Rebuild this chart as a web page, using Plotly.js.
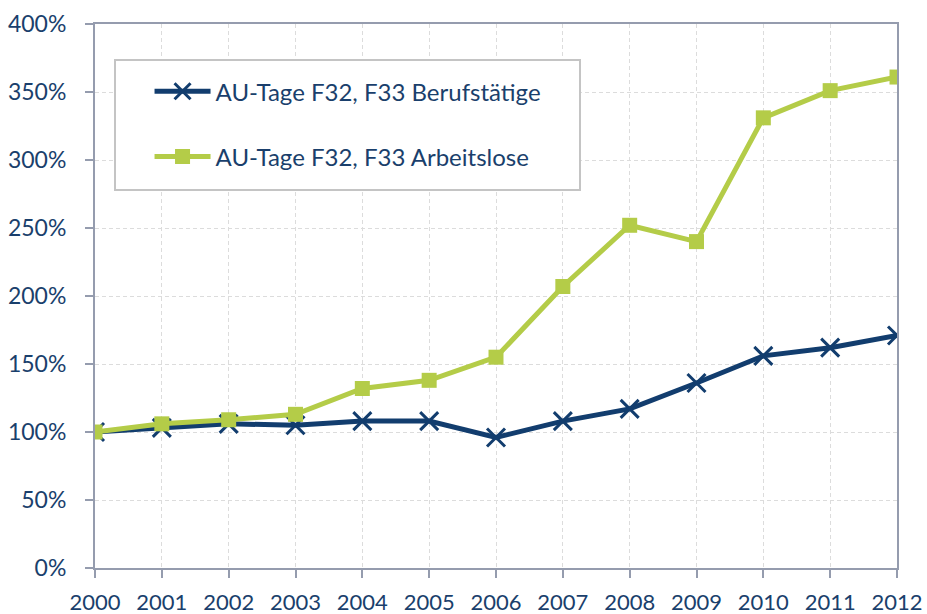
<!DOCTYPE html>
<html><head><meta charset="utf-8">
<script src="https://cdn.plot.ly/plotly-3.0.1.min.js"></script>
<style>body{margin:0;background:#fff}#c{width:927px;height:614px}</style>
</head><body><div id="c"></div>
<script>
const years = ['2000','2001','2002','2003','2004','2005','2006','2007','2008','2009','2010','2011','2012'];
const berufstaetige = [100,103,106,105,108,108,96,108,117,136,156,162,171];
const arbeitslose = [100,106,109,113,132,138,155,207,252,240,331,351,361];
const yTicks = [0,50,100,150,200,250,300,350,400];
const yTickText = yTicks.map(v => v + '%');
const names = ['AU-Tage F32, F33 Berufstätige','AU-Tage F32, F33 Arbeitslose'];

const navy = '#123d6e';
const green = '#b4cc48';
const textCol = '#1a3f6c';
const axisCol = '#959cae';

const traces = [
  {x: years, y: berufstaetige, name: names[0], mode:'lines+markers', legendgroup:'a',
   line:{color:navy,width:5}, marker:{symbol:'x-thin-open',size:18,line:{color:navy,width:3}}},
  {x: years, y: arbeitslose, name: names[1], mode:'lines+markers', legendgroup:'b',
   line:{color:green,width:5}, marker:{symbol:'square',size:15,color:green}}
];

const layout = {
  width:927, height:614,
  margin:{l:95,r:30,t:24,b:46},
  paper_bgcolor:'#fff', plot_bgcolor:'#fff',
  font:{family:'Lato, "Open Sans", sans-serif', color:textCol, size:22},
  xaxis:{type:'category', range:[0,12], showline:true, linecolor:axisCol, linewidth:2, mirror:true,
    showgrid:true, gridcolor:'#dcdcdc', griddash:'4px,3px', gridwidth:1,
    ticks:'outside', ticklen:8, tickcolor:axisCol, tickwidth:2, ticklabelstandoff:6,
    tickfont:{size:22,color:textCol}, zeroline:false},
  yaxis:{range:[0,400], tickvals:yTicks, ticktext:yTickText, showline:true, linecolor:axisCol, linewidth:2, mirror:true,
    showgrid:true, gridcolor:'#dcdcdc', griddash:'4px,3px', gridwidth:1,
    ticks:'outside', ticklen:8, tickcolor:axisCol, tickwidth:2, ticklabelstandoff:14,
    tickfont:{size:23,color:textCol}, zeroline:false},
  showlegend:true,
  legend:{x:0.068, y:0.917, xanchor:'left', yanchor:'top', bgcolor:'rgba(0,0,0,0)', borderwidth:0,
    traceorder:'grouped', tracegroupgap:31, itemwidth:56, font:{size:24,color:textCol}},
  shapes:[{type:'rect', xref:'paper', yref:'paper', x0:(115-95)/802, x1:(580-95)/802, y0:(568-190)/544, y1:(568-60)/544,
    line:{color:'#c4c4c4',width:2}, fillcolor:'#fff', layer:'above'}]
};
Plotly.newPlot('c', traces, layout, {displayModeBar:false, staticPlot:true});
</script>
</body></html>
